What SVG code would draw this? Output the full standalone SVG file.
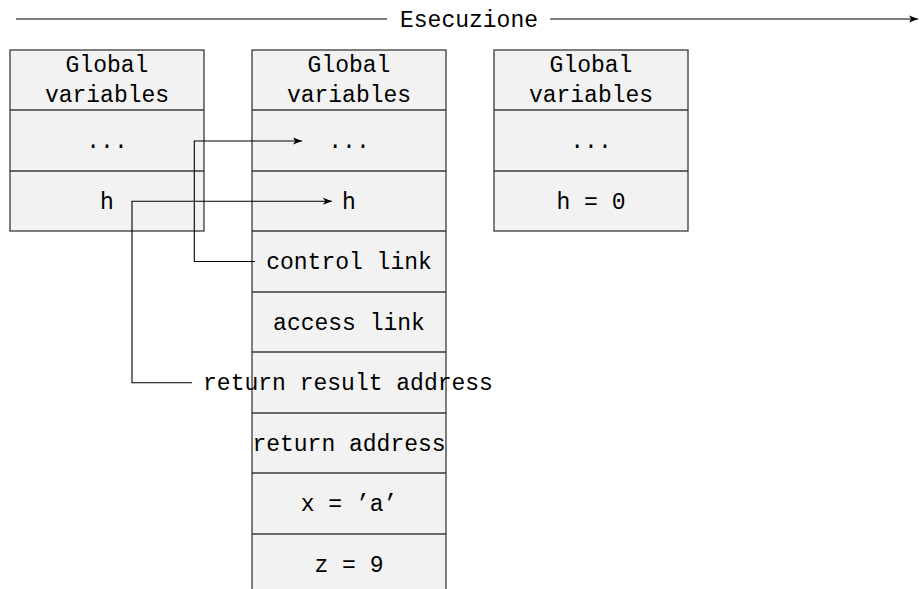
<svg xmlns="http://www.w3.org/2000/svg" width="920" height="589" viewBox="0 0 920 589">
  <style>
    .cell { fill: #f2f2f2; stroke: #3a3a3a; stroke-width: 1.3; }
    .sep { stroke: #3a3a3a; stroke-width: 1.3; fill: none; }
    .lbl { font-family: "Liberation Mono", "DejaVu Sans Mono", monospace; font-size: 23px; fill: #000; text-anchor: middle; }
    .wire { fill: none; stroke: #000; stroke-width: 1.1; }
  </style>
  <defs>
    <marker id="tip" markerWidth="10" markerHeight="8" refX="9" refY="4" orient="auto" markerUnits="userSpaceOnUse">
      <path d="M0,0.5 L9,4 L0,7.5 L2.2,4 Z" fill="#000"/>
    </marker>
  </defs>

  <!-- Time axis -->
  <g id="timeline">
    <line class="wire" x1="16" y1="19" x2="387" y2="19"/>
    <text class="lbl" x="469" y="27">Esecuzione</text>
    <line class="wire" x1="550" y1="19" x2="918" y2="19" marker-end="url(#tip)"/>
  </g>

  <!-- Activation record before the call -->
  <g id="frame-before">
    <rect class="cell" x="10" y="50" width="194" height="181"/>
    <line class="sep" x1="10" y1="110" x2="204" y2="110"/>
    <line class="sep" x1="10" y1="171" x2="204" y2="171"/>
    <text class="lbl" x="107" y="72">Global</text>
    <text class="lbl" x="107" y="102">variables</text>
    <text class="lbl" x="107" y="148">...</text>
    <text class="lbl" x="107" y="208.5">h</text>
  </g>

  <!-- Activation record during the call -->
  <g id="frame-during">
    <rect class="cell" x="252" y="50" width="194" height="560"/>
    <line class="sep" x1="252" y1="110" x2="446" y2="110"/>
    <line class="sep" x1="252" y1="171" x2="446" y2="171"/>
    <line class="sep" x1="252" y1="231" x2="446" y2="231"/>
    <line class="sep" x1="252" y1="292" x2="446" y2="292"/>
    <line class="sep" x1="252" y1="352" x2="446" y2="352"/>
    <line class="sep" x1="252" y1="413" x2="446" y2="413"/>
    <line class="sep" x1="252" y1="473" x2="446" y2="473"/>
    <line class="sep" x1="252" y1="534" x2="446" y2="534"/>
    <text class="lbl" x="349" y="72">Global</text>
    <text class="lbl" x="349" y="102">variables</text>
    <text class="lbl" x="349" y="148">...</text>
    <text class="lbl" x="349" y="208.5">h</text>
    <text class="lbl" x="349" y="269">control link</text>
    <text class="lbl" x="349" y="329.5">access link</text>
    <text class="lbl" x="348" y="390">return result address</text>
    <text class="lbl" x="349" y="450.5">return address</text>
    <text class="lbl" x="349" y="511">x = ’a’</text>
    <text class="lbl" x="349" y="571.5">z = 9</text>
  </g>

  <!-- Activation record after the call -->
  <g id="frame-after">
    <rect class="cell" x="494" y="50" width="194" height="181"/>
    <line class="sep" x1="494" y1="110" x2="688" y2="110"/>
    <line class="sep" x1="494" y1="171" x2="688" y2="171"/>
    <text class="lbl" x="591" y="72">Global</text>
    <text class="lbl" x="591" y="102">variables</text>
    <text class="lbl" x="591" y="148">...</text>
    <text class="lbl" x="591" y="208.5">h = 0</text>
  </g>

  <!-- Links between records -->
  <g id="connectors">
    <polyline class="wire" points="255,261.5 194.3,261.5 194.3,141 302,141" marker-end="url(#tip)"/>
    <polyline class="wire" points="192,382.7 132,382.7 132,201.3 332,201.3" marker-end="url(#tip)"/>
  </g>
</svg>
